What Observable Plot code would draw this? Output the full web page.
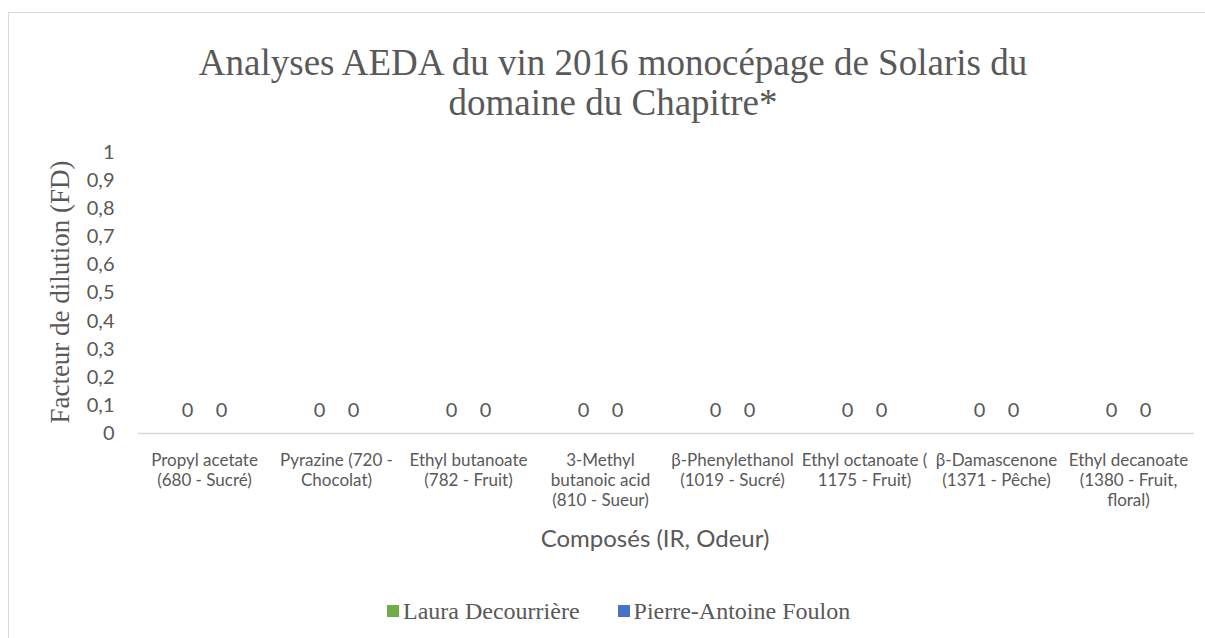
<!DOCTYPE html>
<html>
<head>
<meta charset="utf-8">
<script src="https://cdn.jsdelivr.net/npm/d3@7"></script>
<script src="https://cdn.jsdelivr.net/npm/@observablehq/plot@0.6"></script>
<style>
  body { margin: 0; background: #fff; }
  #chart { position: relative; width: 1205px; height: 638px; overflow: hidden; background: #fff; }
  #frame { position: absolute; left: 8px; top: 12px; width: 1400px; height: 800px;
           border-left: 1.5px solid #d9d9d9; border-top: 1.5px solid #d9d9d9; }
  #title { position: absolute; left: 0; top: 43px; width: 1226px; text-align: center;
           font-family: "Liberation Serif"; font-size: 37px; line-height: 40px; color: #595959; }
  #plot { position: absolute; left: 0; top: 0; }
  #ytitle { position: absolute; left: 60px; top: 292px; transform: translate(-50%, -50%) rotate(-90deg);
            white-space: nowrap; font-family: "Liberation Serif"; font-size: 27px; line-height: 30px; color: #595959; }
  #xtitle { position: absolute; left: 0; width: 1310px; top: 524px; text-align: center;
            font-family: Lato; font-size: 24px; line-height: 28px; color: #595959; }
  #legend { position: absolute; left: 387px; top: 597px; display: flex; align-items: center;
            font-family: "Liberation Serif"; font-size: 24px; line-height: 28px; color: #595959; white-space: nowrap; }
  .item { display: flex; align-items: center; margin-right: 38px; }
  .sw { width: 12px; height: 12px; margin-right: 4px; }
</style>
</head>
<body>
<div id="chart">
  <div id="frame"></div>
  <div id="title"></div>
  <div id="plot"></div>
  <div id="ytitle"></div>
  <div id="xtitle"></div>
  <div id="legend"></div>
</div>
<script>
const chartTitle = ["Analyses AEDA du vin 2016 monocépage de Solaris du", "domaine du Chapitre*"];
const yAxisTitle = "Facteur de dilution (FD)";
const xAxisTitle = "Composés (IR, Odeur)";

const categories = [
  "Propyl acetate (680 - Sucré)",
  "Pyrazine (720 - Chocolat)",
  "Ethyl butanoate (782 - Fruit)",
  "3-Methyl butanoic acid (810 - Sueur)",
  "β-Phenylethanol (1019 - Sucré)",
  "Ethyl octanoate ( 1175 - Fruit)",
  "β-Damascenone (1371 - Pêche)",
  "Ethyl decanoate (1380 - Fruit, floral)"
];
const categoryLabels = [
  "Propyl acetate\n(680 - Sucré)",
  "Pyrazine (720 -\nChocolat)",
  "Ethyl butanoate\n(782 - Fruit)",
  "3-Methyl\nbutanoic acid\n(810 - Sueur)",
  "β-Phenylethanol\n(1019 - Sucré)",
  "Ethyl octanoate (\n1175 - Fruit)",
  "β-Damascenone\n(1371 - Pêche)",
  "Ethyl decanoate\n(1380 - Fruit,\nfloral)"
];
const series = ["Laura Decourrière", "Pierre-Antoine Foulon"];
const lauraValues = [0, 0, 0, 0, 0, 0, 0, 0];
const pierreValues = [0, 0, 0, 0, 0, 0, 0, 0];
const seriesColors = ["#70AD47", "#4472C4"];
const yTicks = [0, 0.1, 0.2, 0.3, 0.4, 0.5, 0.6, 0.7, 0.8, 0.9, 1];
const yTickLabels = ["0", "0,1", "0,2", "0,3", "0,4", "0,5", "0,6", "0,7", "0,8", "0,9", "1"];

const seriesValues = [lauraValues, pierreValues];
const rows = [];
categories.forEach((c, i) => {
  series.forEach((s, j) => rows.push({category: c, series: s, value: seriesValues[j][i]}));
});

document.getElementById("title").innerHTML = chartTitle.join("<br>");
document.getElementById("ytitle").textContent = yAxisTitle;
document.getElementById("xtitle").textContent = xAxisTitle;
const legend = document.getElementById("legend");
series.forEach((s, j) => {
  const item = document.createElement("div");
  item.className = "item";
  const sw = document.createElement("span");
  sw.className = "sw";
  sw.style.background = seriesColors[j];
  const t = document.createElement("span");
  t.textContent = s;
  item.appendChild(sw); item.appendChild(t);
  legend.appendChild(item);
});

const chart = Plot.plot({
  width: 1205,
  height: 580,
  marginTop: 152,
  marginBottom: 147,
  marginLeft: 134,
  marginRight: 8,
  style: {fontFamily: "Lato", color: "#595959", background: "transparent"},
  fx: {domain: categories, padding: 0, label: null},
  x: {domain: series, paddingInner: 0, paddingOuter: 0.9, axis: null},
  y: {domain: [0, 1], label: null},
  color: {domain: series, range: seriesColors},
  marks: [
    Plot.axisY({ticks: yTicks, tickFormat: d => yTickLabels[yTicks.indexOf(d)], tickSize: 0, tickPadding: 24, fontSize: 20, label: null, fill: "#595959"}),
    Plot.axisFx({anchor: "bottom", tickSize: 0, tickPadding: 18, fontSize: 17, lineHeight: 1.18, label: null, fill: "#595959",
                 tickFormat: d => categoryLabels[categories.indexOf(d)]}),
    Plot.ruleY([0], {stroke: "#d9d9d9", strokeWidth: 1.5}),
    Plot.barY(rows, {fx: "category", x: "series", y: "value", fill: "series"}),
    Plot.text(rows, {fx: "category", x: "series", y: "value", text: d => String(d.value).replace(".", ","),
                     dy: -23, fontSize: 20, fill: "#595959"})
  ]
});
document.getElementById("plot").appendChild(chart);
</script>
</body>
</html>
